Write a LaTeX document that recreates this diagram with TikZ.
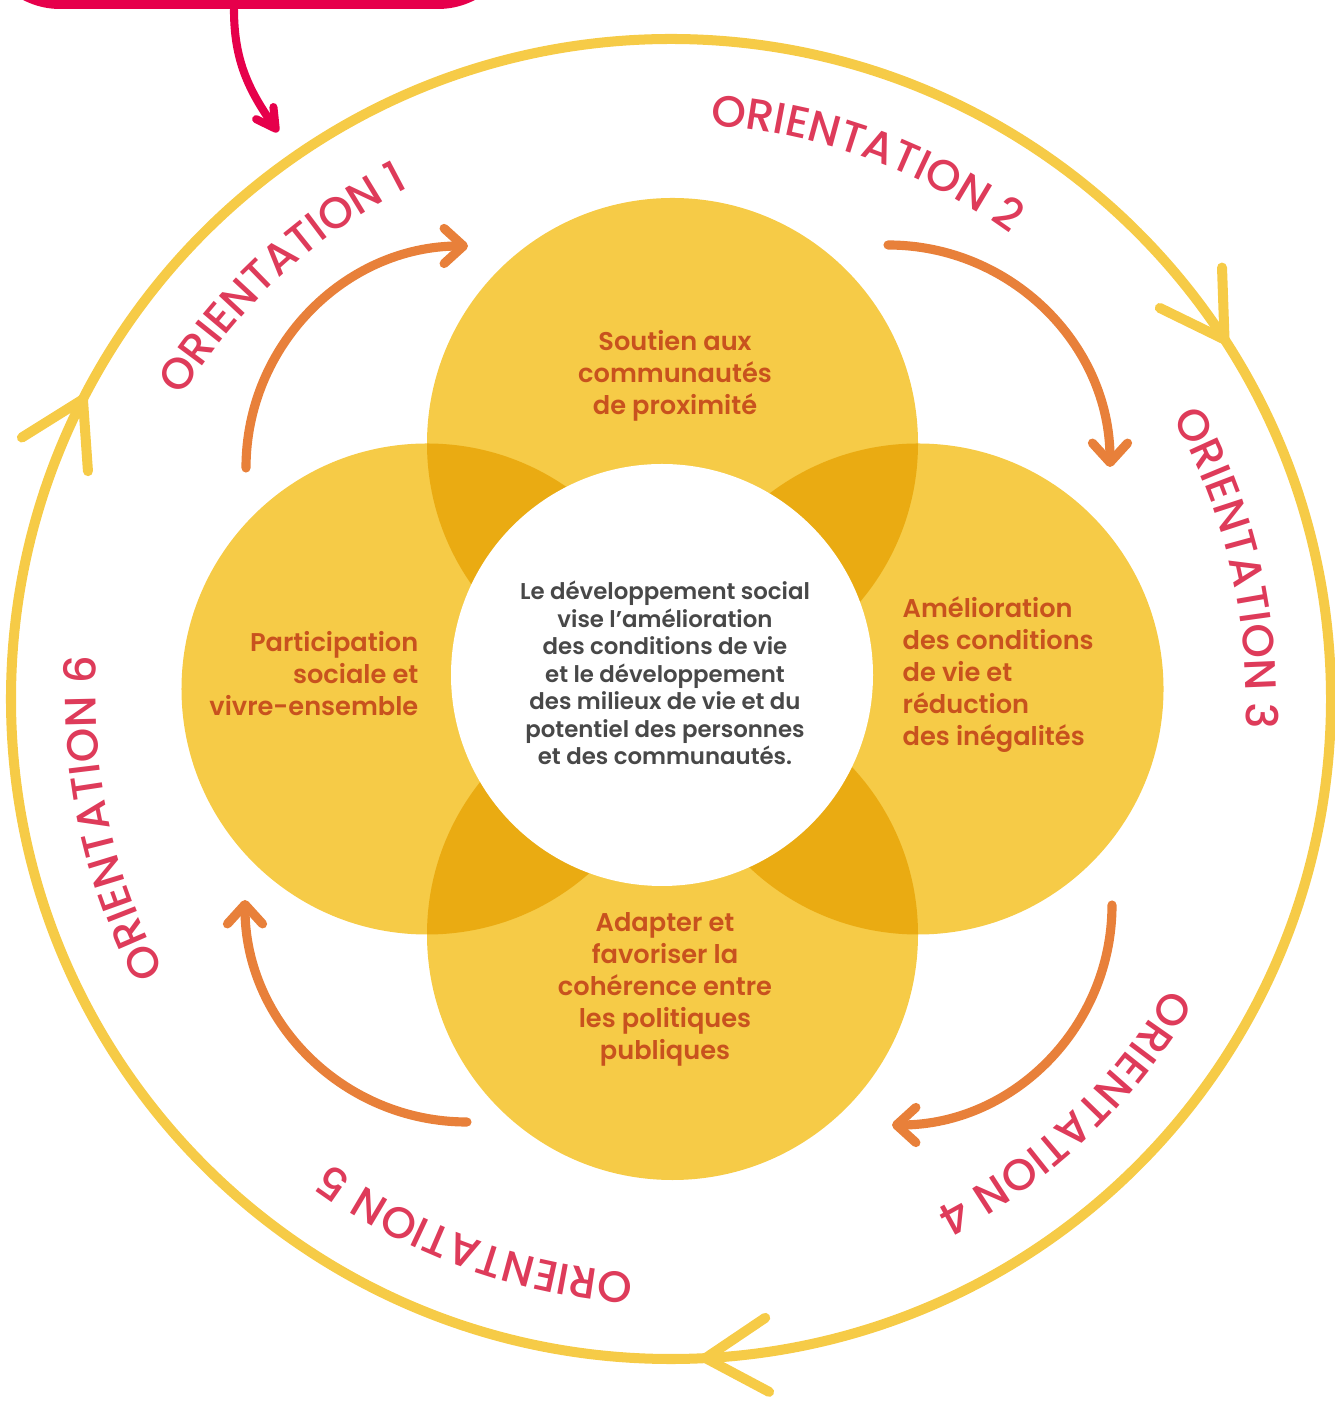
\documentclass[tikz,border=0pt]{standalone}
\usepackage{fontspec}
\setmainfont{Poppins}
\newfontfamily\orientfont{Poppins Medium}
\newfontfamily\strongfont{Poppins SemiBold}
\usetikzlibrary{arrows.meta,decorations.text}
\definecolor{ringyellow}{HTML}{F6CB47}
\definecolor{overlapgold}{HTML}{EAAB12}
\definecolor{arroworange}{HTML}{E8803A}
\definecolor{orienttext}{HTML}{DE3B5A}
\definecolor{introred}{HTML}{E6004B}
\definecolor{petaltext}{HTML}{C8521E}
\definecolor{centertext}{HTML}{484848}
\newcommand\orientlabel{\orientfont\fontsize{12.5}{15}\selectfont}
\begin{document}
\begin{tikzpicture}[
  ring/.style={draw=ringyellow, line width=2.85pt, line cap=round},
  flow/.style={draw=arroworange, line width=2.6pt, line cap=round, -{Straight Barb[length=5.5pt,width=10pt,round]}},
  petaltxt/.style={text=petaltext, font=\strongfont\fontsize{7.3}{9.1}\selectfont, inner sep=0pt},
  introbox/.style={fill=introred, rounded corners=0.8cm, minimum width=5.38cm, minimum height=1.6cm, inner sep=0pt},
  introarrow/.style={draw=introred, line width=2.3pt, line cap=round, -{Straight Barb[length=5.4pt,width=6pt,round]}}
]
\useasboundingbox (-6.71,-7.02) rectangle (6.63,6.99);

\draw[ring] (0,0) circle (6.6);
\foreach \a in {33,153,273}
  \draw[ring] (\a:6.6) -- ++(\a+59:0.72) (\a:6.6) -- ++(\a+121:0.72);

\foreach \m/\n in {132.7/1, 70/2, 13.2/3, -46.4/4, -110/5, -168/6}
  \path[decorate, decoration={text along path, text align=center, text color=orienttext,
    text={|\orientlabel|ORIENTATION \n}}] (\m+30:5.75) arc[start angle=\m+30, end angle=\m-30, radius=5.75];

\coordinate (top) at (0.015,2.555);
\coordinate (bottom) at (0.015,-2.355);
\coordinate (left) at (-2.44,0.10);
\coordinate (right) at (2.47,0.10);
\foreach \p in {top,bottom,left,right}
  \fill[ringyellow] (\p) circle (2.455);
\foreach \a/\b in {top/left, top/right, bottom/left, bottom/right} {
  \begin{scope}
    \clip (\a) circle (2.455);
    \fill[overlapgold] (\b) circle (2.455);
  \end{scope}
}
\fill[white] (-0.09,0.24) circle (2.11);

\node[text=centertext, font=\strongfont\fontsize{6.5}{7.8}\selectfont, align=center, inner sep=0pt] (mission) at (-0.06,0.26)
  {Le développement social\\vise l’amélioration\\des conditions de vie\\et le développement\\des milieux de vie et du\\potentiel des personnes\\et des communautés.};
\node[petaltxt, align=center] (soutien) at (0.04,3.23) {Soutien aux\\communautés\\de proximité};
\node[petaltxt, align=left, anchor=west] (amelioration) at (2.31,0.24)
  {Amélioration\\des conditions\\de vie et\\réduction\\des inégalités};
\node[petaltxt, align=right, anchor=east] (participation) at (-2.52,0.25) {Participation\\sociale et\\vivre-ensemble};
\node[petaltxt, align=center] (adapter) at (-0.06,-2.90)
  {Adapter et\\favoriser la\\cohérence entre\\les politiques\\publiques};

\draw[flow] (-4.25,2.31) arc[start angle=180, end angle=90, radius=2.22];
\draw[flow] (2.17,4.54) arc[start angle=90, end angle=0, radius=2.22];
\draw[flow] (4.41,-2.06) arc[start angle=0, end angle=-90, radius=2.20];
\draw[flow] (-2.04,-4.23) arc[start angle=-90, end angle=-180, radius=2.22];

\node[introbox] (intro) at (-4.22,7.70) {};
\coordinate (entry) at (-3.93,5.67);
\draw[introarrow] ([xshift=-1.5mm]intro.south) to[out=-90,in=125] (entry);
\end{tikzpicture}
\end{document}
